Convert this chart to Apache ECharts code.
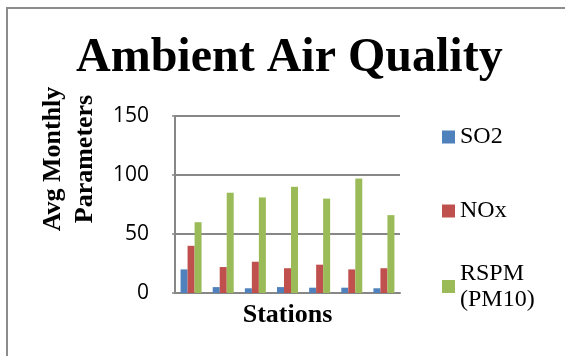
<!DOCTYPE html>
<html>
<head>
<meta charset="utf-8">
<script src="https://cdn.jsdelivr.net/npm/echarts@6/dist/echarts.min.js"></script>
<style>
  html, body { margin: 0; padding: 0; background: #fff; }
  #main { width: 565px; height: 356px; }
</style>
</head>
<body>
<div id="main"></div>
<script>
// stations (no labels shown on the axis)
var stations = ['S1', 'S2', 'S3', 'S4', 'S5', 'S6', 'S7'];
var so2Values = [20, 5, 4, 5, 4.5, 4.5, 4];
var noxValues = [40, 22, 26.5, 21, 24, 20, 21];
var rspmValues = [60, 85, 81, 90, 80, 97, 66];
var yTicks = [0, 50, 100, 150];

var serif = '"Liberation Serif", "Times New Roman", serif';
var gridColor = '#878787';

var chart = echarts.init(document.getElementById('main'), null, { renderer: 'canvas' });

function legendAt(name, top, extra) {
  var textStyle = {
    fontFamily: serif,
    fontSize: 24,
    lineHeight: 26,
    color: '#000'
  };
  if (extra) {
    textStyle.padding = [26, 0, 0, 0];
  }
  return {
    data: [name],
    left: 442,
    top: top,
    padding: 0,
    orient: 'vertical',
    itemWidth: 13,
    itemHeight: 13,
    icon: 'rect',
    selectedMode: false,
    textStyle: textStyle,
    formatter: function (n) {
      return n === 'RSPM (PM10)' ? 'RSPM\n(PM10)' : n;
    }
  };
}

var option = {
  animation: false,
  color: ['#4F81BD', '#C0504D', '#9BBB59'],
  title: {
    text: 'Ambient Air Quality',
    left: 76,
    top: 35,
    padding: 0,
    textStyle: {
      fontFamily: serif,
      fontWeight: 'bold',
      fontSize: 48,
      lineHeight: 48,
      color: '#000'
    }
  },
  legend: [
    legendAt('SO2', 124),
    legendAt('NOx', 198),
    legendAt('RSPM (PM10)', 247.5, true)
  ],
  grid: {
    left: 175,
    right: 165,
    top: 116,
    bottom: 63,
    containLabel: false,
    outerBoundsMode: 'none'
  },
  xAxis: {
    type: 'category',
    data: stations,
    name: 'Stations',
    nameLocation: 'middle',
    nameGap: 9,
    nameTextStyle: {
      fontFamily: serif,
      fontWeight: 'bold',
      fontSize: 26,
      lineHeight: 26,
      color: '#000'
    },
    axisLine: { lineStyle: { color: gridColor, width: 2 } },
    axisTick: { show: false },
    axisLabel: { show: false }
  },
  yAxis: {
    type: 'value',
    min: yTicks[0],
    max: yTicks[yTicks.length - 1],
    interval: 50,
    axisLine: { show: true, lineStyle: { color: gridColor, width: 2 } },
    axisTick: { show: true, length: 3, lineStyle: { color: gridColor, width: 1.5 } },
    axisLabel: {
      margin: 26,
      fontFamily: '"Open Sans", sans-serif',
      fontSize: 21,
      color: '#000'
    },
    splitLine: { lineStyle: { color: gridColor, width: 2 } }
  },
  graphic: [
    {
      type: 'rect',
      silent: true,
      z: -10,
      shape: { x: 7, y: 8, width: 700, height: 500 },
      style: { fill: 'none', stroke: '#8c8c8c', lineWidth: 2 }
    },
    {
      type: 'text',
      x: 69,
      y: 159,
      rotation: Math.PI / 2,
      style: {
        text: 'Avg Monthly\nParameters',
        font: 'bold 26px ' + serif,
        lineHeight: 32,
        align: 'center',
        verticalAlign: 'middle',
        fill: '#000'
      }
    }
  ],
  series: [
    { name: 'SO2', type: 'bar', data: so2Values, barWidth: 7, barGap: '0%' },
    { name: 'NOx', type: 'bar', data: noxValues, barWidth: 7, barGap: '0%' },
    { name: 'RSPM (PM10)', type: 'bar', data: rspmValues, barWidth: 7, barGap: '0%' }
  ]
};

chart.setOption(option);
</script>
</body>
</html>
